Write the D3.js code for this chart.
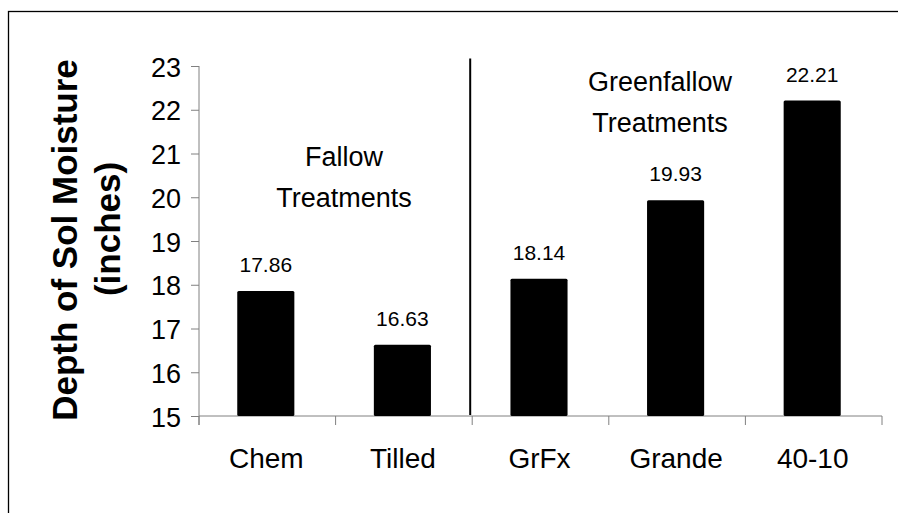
<!DOCTYPE html>
<html>
<head>
<meta charset="utf-8">
<script src="https://cdn.jsdelivr.net/npm/d3@7/dist/d3.min.js"></script>
<style>
  html, body { margin: 0; padding: 0; background: #fff; }
  svg { display: block; }
  text { font-family: "Liberation Sans", Arial, sans-serif; fill: #000; }
</style>
</head>
<body>
<svg id="chart" width="898" height="513"></svg>
<script>
const categories = ["Chem", "Tilled", "GrFx", "Grande", "40-10"];
const values = [17.86, 16.63, 18.14, 19.93, 22.21];
const valueLabels = ["17.86", "16.63", "18.14", "19.93", "22.21"];
const yTicks = [15, 16, 17, 18, 19, 20, 21, 22, 23];
const yTitleLines = ["Depth of Sol Moisture", "(inches)"];
const groupLabels = [
  { lines: ["Fallow", "Treatments"], cats: ["Chem", "Tilled"] },
  { lines: ["Greenfallow", "Treatments"], cats: ["GrFx", "Grande", "40-10"] }
];

const svg = d3.select("#chart");

// outer frame (extends beyond right/bottom edges)
svg.append("rect")
  .attr("x", 8.5).attr("y", 11.5)
  .attr("width", 1000).attr("height", 1000)
  .attr("fill", "none").attr("stroke", "#000").attr("stroke-width", 1.3);

const x = d3.scaleBand().domain(categories).range([199, 882]).padding(0);
const y = d3.scaleLinear().domain([15, 23]).range([416, 66]);

const axisColor = "#808080";

// Y axis
const yAxis = svg.append("g").attr("transform", "translate(199,0)")
  .call(d3.axisLeft(y).tickValues(yTicks).tickSize(8).tickPadding(10).tickFormat(d3.format("d")));
yAxis.select(".domain").attr("stroke", axisColor).attr("d", `M0,${y(23)}V${y(15) + 9}`);
yAxis.selectAll(".tick line").attr("stroke", axisColor);
yAxis.selectAll(".tick text").style("font-size", "27px").attr("dy", "0.36em")
  .attr("transform", "scale(1,1.05)");

// X axis
const xAxisG = svg.append("g").attr("transform", `translate(0,${y(15)})`);
xAxisG.append("line")
  .attr("x1", x.range()[0]).attr("x2", x.range()[1])
  .attr("y1", 0).attr("y2", 0).attr("stroke", axisColor);
const boundaries = categories.map(c => x(c)).concat([x(categories[categories.length - 1]) + x.bandwidth()]);
xAxisG.selectAll("line.bt").data(boundaries).enter().append("line")
  .attr("class", "bt")
  .attr("x1", d => d).attr("x2", d => d)
  .attr("y1", 0).attr("y2", 9).attr("stroke", axisColor);
xAxisG.selectAll("text.cat").data(categories).enter().append("text")
  .attr("class", "cat")
  .attr("x", d => x(d) + x.bandwidth() / 2 - 1)
  .attr("y", 52)
  .attr("text-anchor", "middle")
  .style("font-size", "28px")
  .text(d => d);

// bars
const barW = x.bandwidth() * 0.418;
svg.selectAll("rect.bar").data(categories).enter().append("rect")
  .attr("class", "bar")
  .attr("x", d => x(d) + x.bandwidth() / 2 - barW / 2 - 1.5)
  .attr("width", barW)
  .attr("y", (d, i) => y(values[i]))
  .attr("height", (d, i) => y(15) - y(values[i]))
  .attr("rx", 1.5)
  .attr("fill", "#000");

// value labels
svg.selectAll("text.val").data(categories).enter().append("text")
  .attr("class", "val")
  .attr("x", d => x(d) + x.bandwidth() / 2 - 1.5)
  .attr("y", (d, i) => y(values[i]) - 19)
  .attr("text-anchor", "middle")
  .style("font-size", "21px")
  .text((d, i) => valueLabels[i]);

// divider line between groups
const divX = x("GrFx") - 2;
svg.append("line")
  .attr("x1", divX).attr("x2", divX)
  .attr("y1", y(23.17)).attr("y2", y(15) - 1)
  .attr("stroke", "#000").attr("stroke-width", 2);

// group annotations
const groupPos = [
  { cx: 344, y0: 166 },
  { cx: 660, y0: 91 }
];
groupLabels.forEach((g, gi) => {
  g.lines.forEach((ln, li) => {
    svg.append("text")
      .attr("x", groupPos[gi].cx)
      .attr("y", groupPos[gi].y0 + li * 41)
      .attr("text-anchor", "middle")
      .style("font-size", "27px")
      .text(ln);
  });
});

// y title
const titlePos = [{ bx: 77, cy: 240 }, { bx: 120, cy: 229 }];
yTitleLines.forEach((t, i) => {
  svg.append("text")
    .attr("transform", `translate(${titlePos[i].bx},${titlePos[i].cy}) rotate(-90)`)
    .attr("text-anchor", "middle")
    .style("font-size", "35px")
    .style("font-weight", "bold")
    .text(t);
});
</script>
</body>
</html>
